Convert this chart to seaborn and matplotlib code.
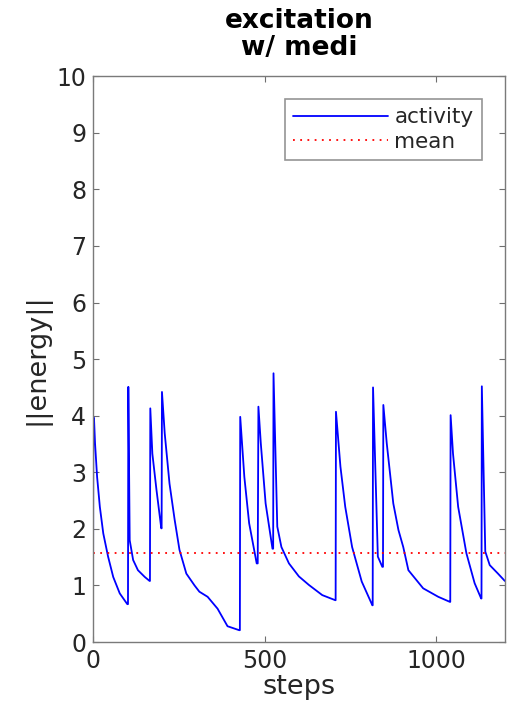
import numpy as np
import pandas as pd
import matplotlib
matplotlib.use("Agg")
import matplotlib.pyplot as plt
import seaborn as sns

steps = [0, 1, 3, 6, 12, 20, 30, 44, 59, 78, 100,
         102, 103, 107, 117, 131, 151, 165,
         166, 167, 173, 185, 199,
         200, 201, 209, 223, 238, 252, 272, 296, 310, 334, 363, 392, 426,
         428, 429, 441, 455, 477,
         480, 482, 489, 503, 523,
         525, 526, 537, 549, 571, 600, 629, 668, 706,
         707, 708, 721, 735, 755, 783, 814,
         815, 816, 830, 843,
         845, 846, 856, 875, 890, 904, 919, 962, 1006, 1040,
         1041, 1042, 1049, 1064, 1088, 1112, 1131,
         1132, 1133, 1143, 1156, 1180, 1200]
energy = [0.0, 3.98, 3.95, 3.51, 2.92, 2.39, 1.92, 1.51, 1.15, 0.86, 0.67,
          0.67, 4.51, 1.80, 1.45, 1.27, 1.15, 1.08,
          1.08, 4.13, 3.33, 2.69, 2.01,
          2.01, 4.42, 3.69, 2.80, 2.16, 1.63, 1.21, 1.00, 0.89, 0.80, 0.59, 0.28, 0.21,
          0.21, 3.98, 2.92, 2.10, 1.39,
          1.39, 4.16, 3.51, 2.45, 1.65,
          1.65, 4.75, 2.04, 1.68, 1.39, 1.16, 1.01, 0.83, 0.74,
          0.74, 4.07, 3.10, 2.39, 1.68, 1.07, 0.65,
          0.65, 4.50, 1.51, 1.33,
          1.33, 4.19, 3.51, 2.45, 1.98, 1.68, 1.27, 0.95, 0.80, 0.71,
          0.71, 4.01, 3.33, 2.39, 1.57, 1.04, 0.77,
          0.77, 4.52, 1.60, 1.36, 1.21, 1.08]
mean_value = 1.58
x_ticks = [0, 500, 1000]
y_ticks = list(range(0, 11))
title = "excitation\nw/ medi"

sns.set_theme(style="white")
plt.rcParams['font.family'] = ['DejaVu Sans']

fig = plt.figure(figsize=(5.12, 7.19), dpi=100)
ax = fig.add_axes([0.1816, 0.107, 0.8044, 0.787])

df = pd.DataFrame({"steps": steps, "energy": energy})
sns.lineplot(data=df, x="steps", y="energy", ax=ax, color="#0000ff",
             linewidth=1.3, estimator=None, sort=False, label="activity")
ax.plot([0, 1200], [mean_value, mean_value], color="#ff0000",
        linestyle=(0, (1, 3)), linewidth=1.3, label="mean")

ax.set_xlim(0, 1200)
ax.set_ylim(0, 10)
ax.set_xticks(x_ticks)
ax.set_yticks(y_ticks)
ax.tick_params(direction="in", length=4, width=0.8, colors="#6e6e6e",
               labelcolor="#262626", labelsize=17, top=True, right=True,
               bottom=True, left=True, pad=5)
for s in ax.spines.values():
    s.set_color("#7a7a7a")
    s.set_linewidth(1.0)

ax.set_xlabel("steps", fontsize=19.5, color="#262626", labelpad=1)
ax.set_ylabel("||energy||", fontsize=19.5, color="#262626", labelpad=4)
ax.set_title(title, fontsize=19, fontweight="bold", color="#000000",
             linespacing=1.05, pad=15)

leg = ax.legend(loc="upper right", bbox_to_anchor=(0.945, 0.96), fontsize=15.5,
                frameon=True, fancybox=False, handlelength=4.4,
                borderpad=0.4, labelspacing=0.2, handletextpad=0.3,
                borderaxespad=0.0)
leg.get_frame().set_edgecolor("#7a7a7a")
leg.get_frame().set_linewidth(1.2)
for t in leg.get_texts():
    t.set_color("#262626")

fig.savefig("out.png", dpi=100)
